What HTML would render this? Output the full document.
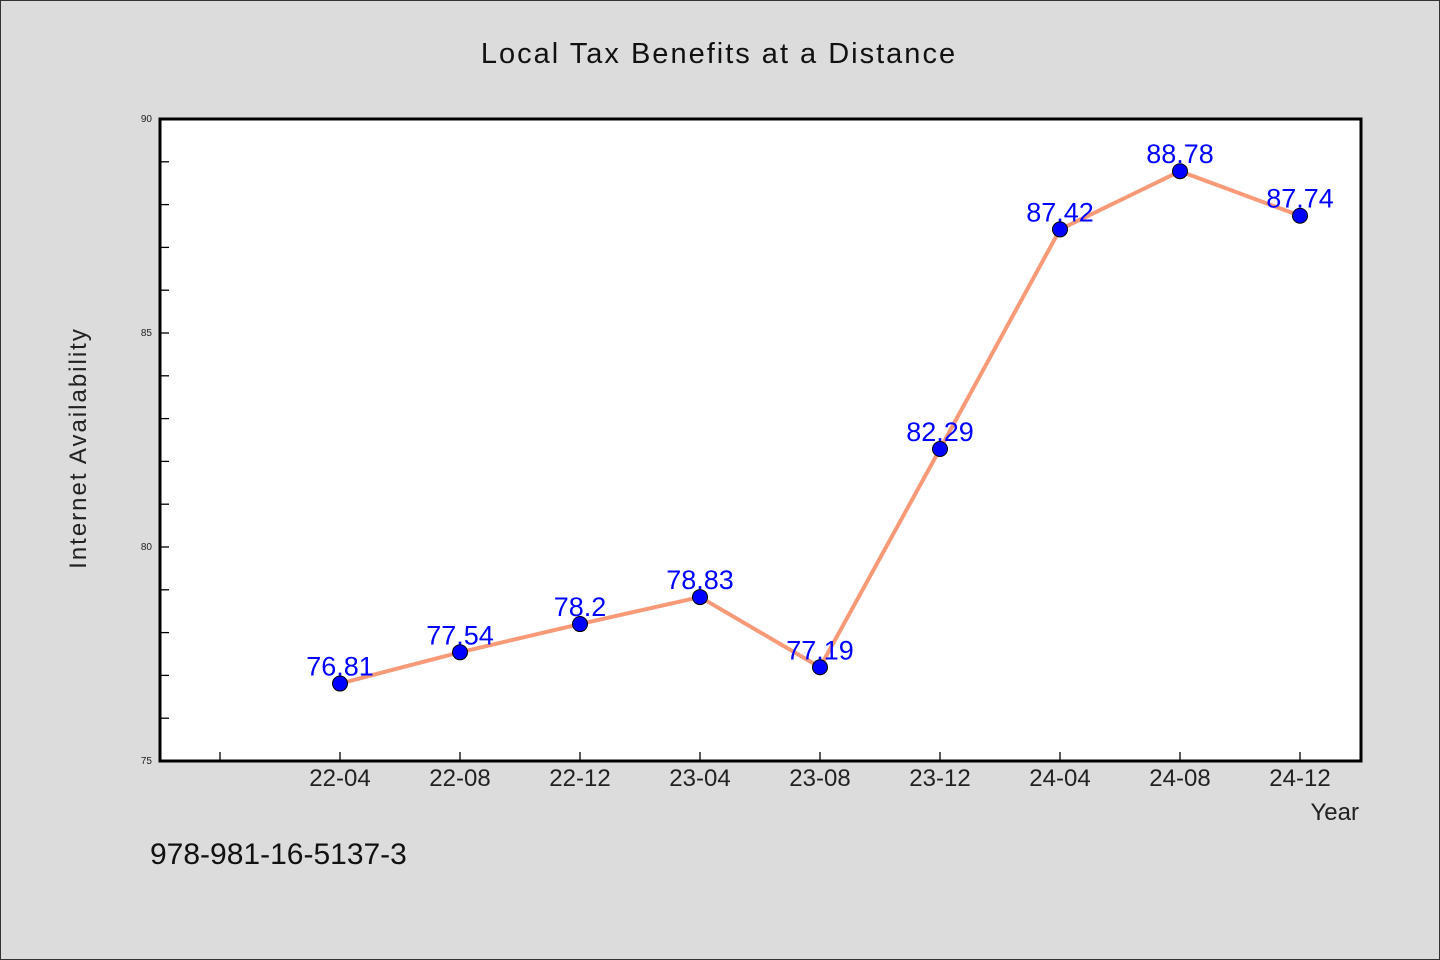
<!DOCTYPE html>
<html><head><meta charset="utf-8"><style>
body{margin:0;background:#dcdcdc;}
svg{display:block;font-family:"WenQuanYi Zen Hei","Liberation Sans",sans-serif;}
</style></head><body>
<svg width="1440" height="960">
<rect x="0.5" y="0.5" width="1439" height="959" fill="#dcdcdc" stroke="#333"/>
<text x="719" y="63" font-size="29" text-anchor="middle" fill="#111" letter-spacing="2">Local Tax Benefits at a Distance</text>
<rect x="160" y="119" width="1201" height="642" fill="#fff" stroke="#000" stroke-width="3"/>
<text x="86" y="448" font-size="24" text-anchor="middle" fill="#222" letter-spacing="2" transform="rotate(-90 86 448)">Internet Availability</text>
<text x="1359" y="820" font-size="24" text-anchor="end" fill="#222">Year</text>
<text x="150" y="864" font-size="30" fill="#111">978-981-16-5137-3</text>
<g id="ticks"></g>
<g id="marks"></g>
</svg>
<script>
const categories=["22-04","22-08","22-12","23-04","23-08","23-12","24-04","24-08","24-12"];
const values=[76.81,77.54,78.2,78.83,77.19,82.29,87.42,88.78,87.74];
const valueLabels=["76.81","77.54","78.2","78.83","77.19","82.29","87.42","88.78","87.74"];
const yTickLabels=[75,80,85,90];
const NS="http://www.w3.org/2000/svg";
const x=i=>340+120*i;
const y=v=>761-(v-75)*(642/15);
function mk(t,a,p){const e=document.createElementNS(NS,t);for(const k in a)e.setAttribute(k,a[k]);p.appendChild(e);return e;}
const tg=document.getElementById('ticks'),mg=document.getElementById('marks');
for(let v=76;v<90;v++){
 const l=mk('line',{x1:161,x2:169,y1:y(v),y2:y(v),stroke:'#000','stroke-width':1.3},tg);
 
 
}
yTickLabels.forEach(v=>{
 const t=mk('text',{x:152,y:y(v)+3,'font-size':10,'text-anchor':'end',fill:'#222'},tg);t.textContent=v;
 
 
});
for(let i=-1;i<categories.length;i++){
 const l=mk('line',{x1:x(i),x2:x(i),y1:752,y2:760,stroke:'#000','stroke-width':1.3},tg);
 
 
 if(i>=0){const t=mk('text',{x:x(i),y:786,'font-size':24,'text-anchor':'middle',fill:'#222'},tg);t.textContent=categories[i];
 
 }
}
const pl=mk('polyline',{points:values.map((v,i)=>x(i)+','+y(v)).join(' '),fill:'none',stroke:'#f89a78','stroke-width':4,'stroke-linejoin':'round'},mg);


values.forEach((v,i)=>{
 const c=mk('circle',{cx:x(i),cy:y(v),r:7.5,fill:'#0000ff',stroke:'#000','stroke-width':1},mg);
 
 
 const t=mk('text',{x:x(i),y:y(v)-8,'font-size':27,'text-anchor':'middle',fill:'#0000ff'},mg);t.textContent=valueLabels[i];
 
 
});
</script>
</body></html>
